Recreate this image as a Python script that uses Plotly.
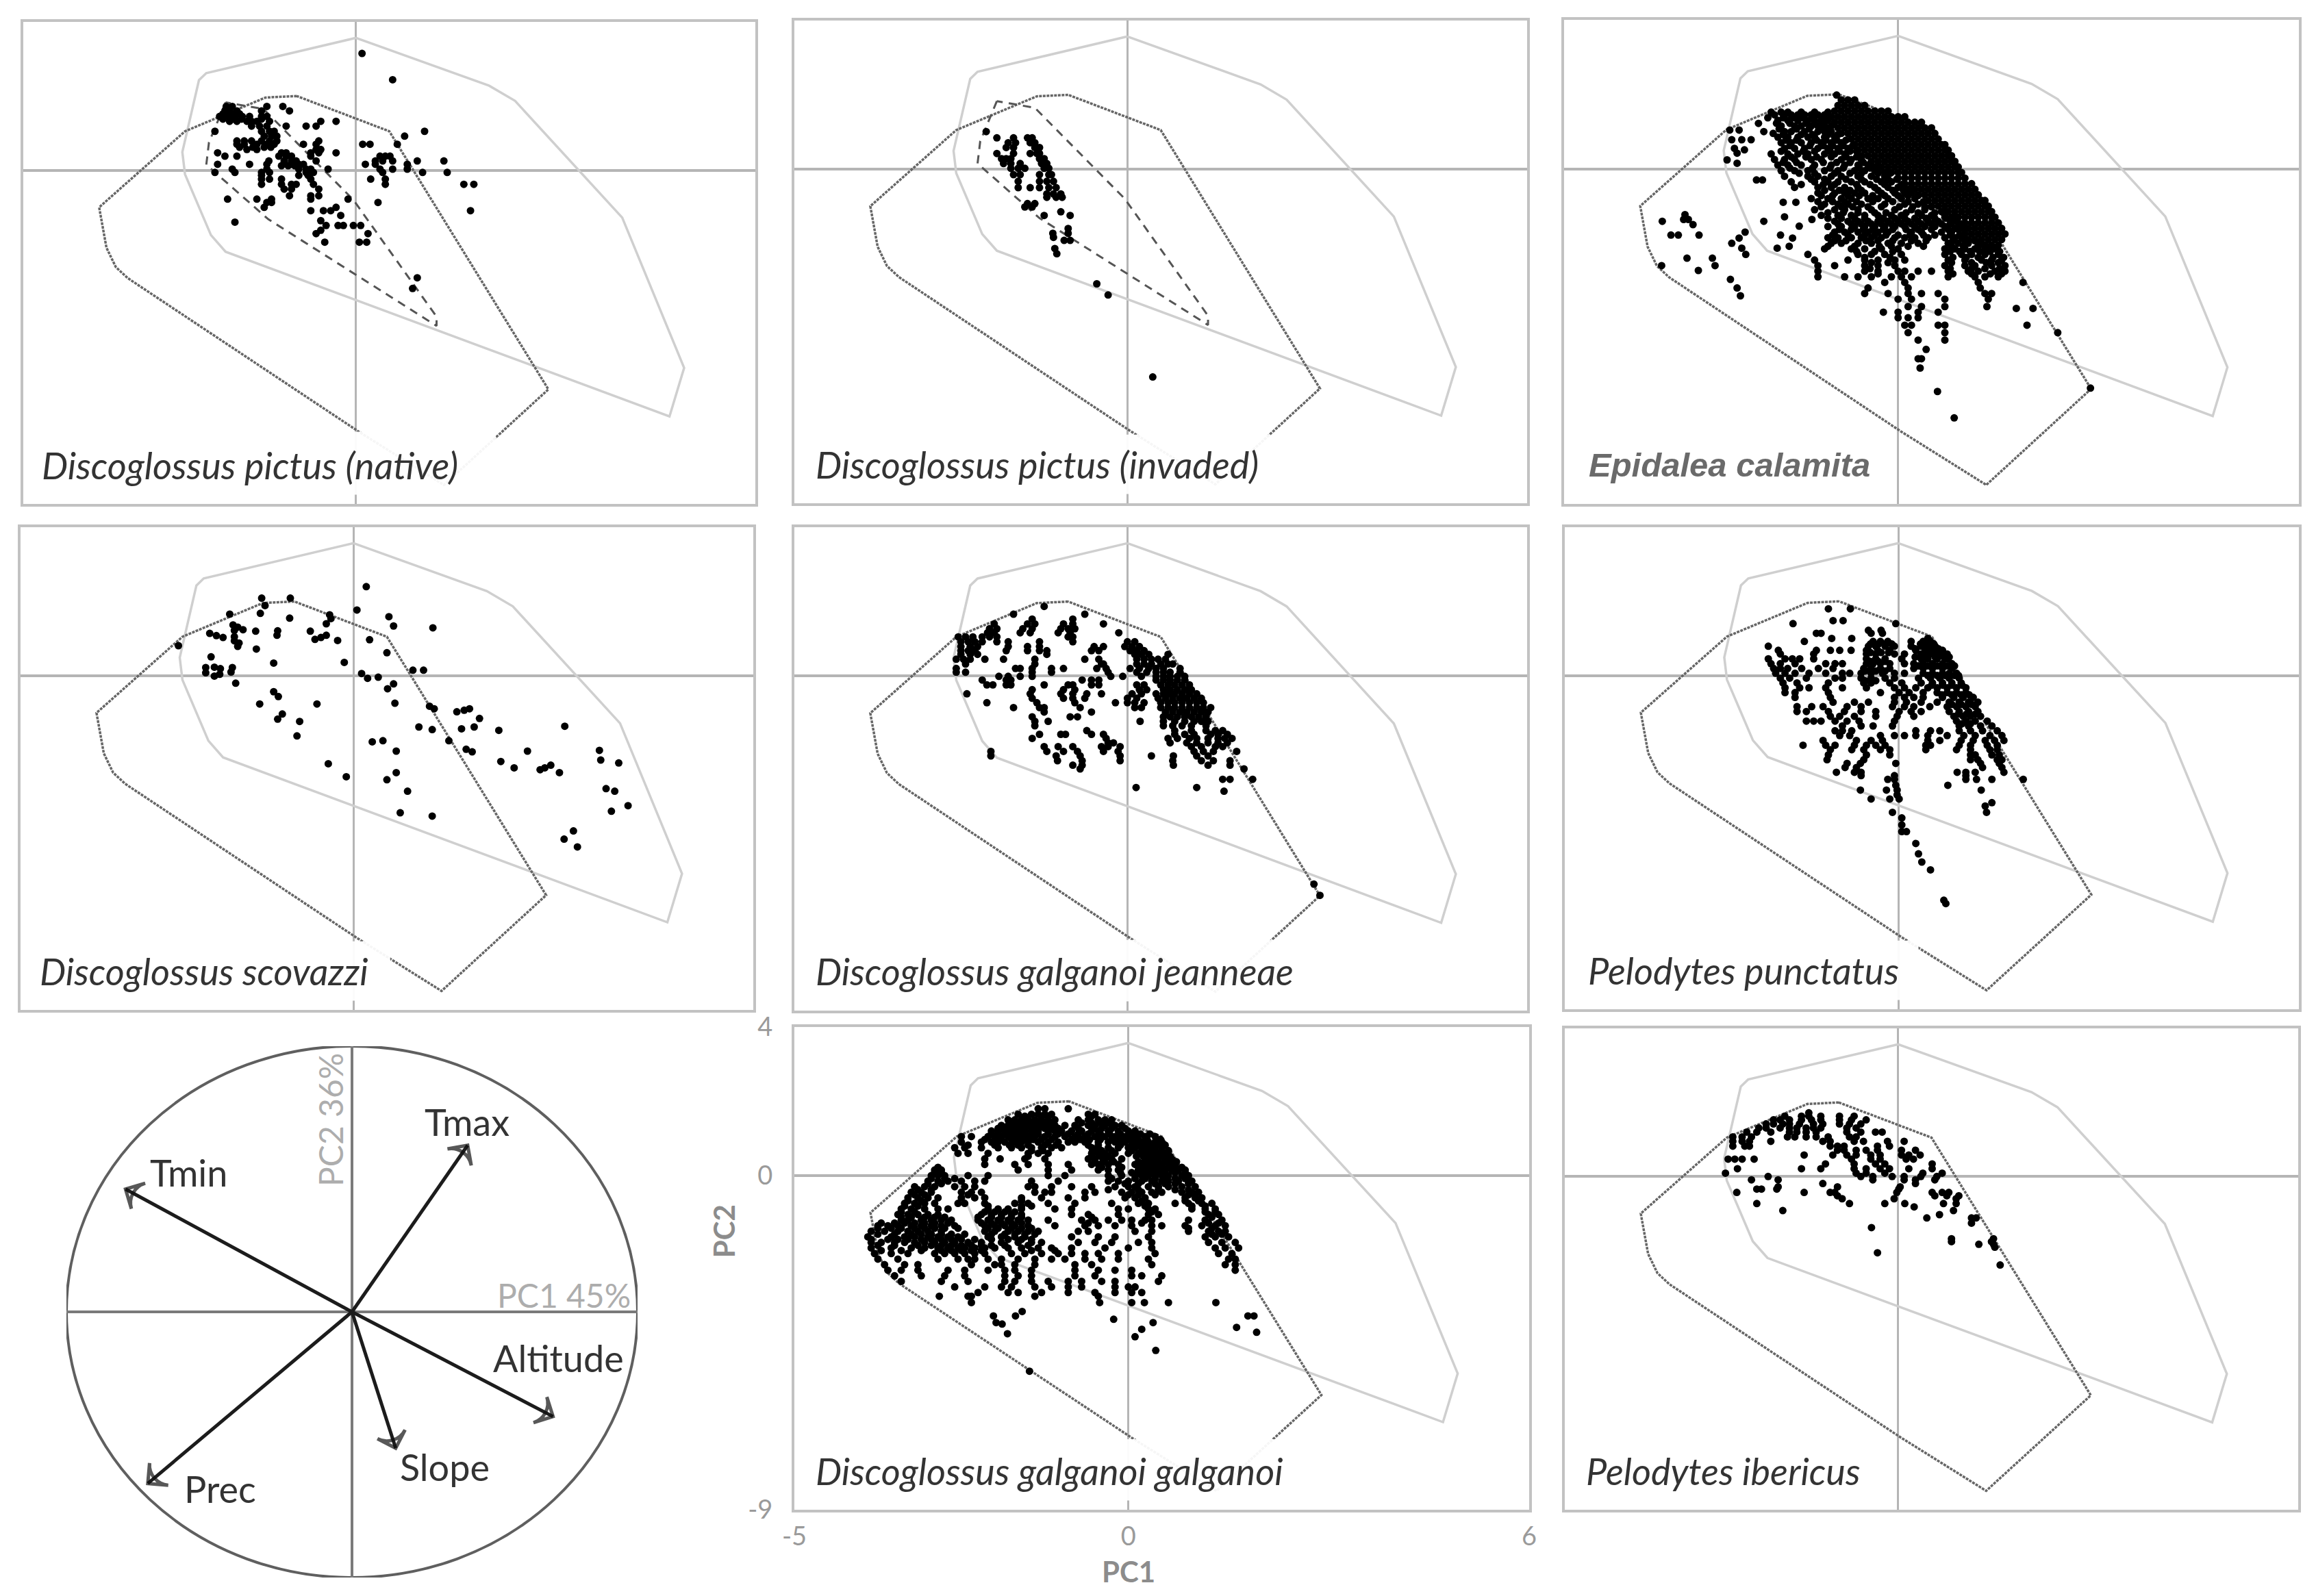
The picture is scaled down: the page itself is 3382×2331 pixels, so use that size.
import plotly.graph_objects as go

W, H = 3382, 2331

# ---- envelopes (PC1, PC2) ----
invaded_x = [0, -2.25, -2.36, -2.61, -2.57, -2.18, -1.96, 4.71, 4.93, 4.0, 2.39, 2.0, 0]
invaded_y = [3.57, 2.62, 2.43, 0.49, -0.11, -1.75, -2.2, -6.64, -5.33, -1.28, 1.87, 2.28, 3.57]
native_x = [-0.89, -1.36, -2.57, -3.86, -3.75, -3.61, -3.43, 0.04, 1.32, 2.89, 0.5, -0.89]
native_y = [2.0, 1.96, 1.05, -1.0, -2.09, -2.61, -2.91, -7.05, -8.49, -5.91, 1.05, 2.0]
pictus_x = [-1.96, -2.21, -2.25, -1.32, 1.21, 1.21, -0.04, -1.39, -1.96]
pictus_y = [1.83, 0.75, 0.15, -1.32, -4.2, -3.95, -0.8, 1.65, 1.83]

# ---- occurrences, stored as (PC2, [PC1 ...]) ----
A_rows = [
(3.15,[.09]),(2.44,[.55]),(1.72,[-1.95,-1.86,-1.34,-1.1]),(1.6,[-1.97,-1.9,-1.79,-1.42,-1.0]),
(1.45,[-2.05,-1.97,-1.9,-1.82,-1.71,-1.6,-1.42,-1.34]),(1.32,[-1.9,-1.79,-1.64,-1.57,-1.49,-1.3,-.53,-.3]),
(1.19,[-1.57,-1.45,-1.34,-1.05,-.75,-.6]),(1.05,[-2.12,-1.42,-1.3,-1.23,1.03]),(.92,[-1.38,-1.27,-1.19,.73]),
(.79,[-1.79,-1.68,-1.57,-1.42,-1.3,-1.19,-.56]),(.7,[-1.79,-1.68,-1.49,-1.34,-1.23,-.79,-.6,.1,.21,.62]),
(.56,[-1.64,-1.49,-.6,-.53]),(.47,[-2.08,-1.12,-1.05,-.68,-.56,-.3]),(.38,[-1.97,-1.79,-1.16,-1.05,-.97,-.68,.36,.44,.51]),
(.25,[-1.31,-1.08,-.97,-.9,-.6,.29,.4,.55,.92,1.32]),(.16,[-2.08,-1.6,-1.34,-.97,-.86,-.79,.14,.29,.77]),
(.03,[-1.86,-1.34,-.86,-.75,-.68,-.42,.36,.55,.77]),(-.06,[-2.12,-1.82,-1.42,-1.3,-.75,-.64,1.0,.4,1.37]),
(-.24,[-1.42,-1.3,-1.12,-.68,.22,.44]),(-.38,[-1.42,-1.12,-.97,-.9,-.64,.44,1.62,1.77]),(-.51,[-1.08,-.97,-.56]),
(-.69,[-1.0,-.68,-.56]),(-.78,[-1.93,-1.49,-1.27,-.68,-.12]),(-.87,[-1.27,-1.34,.33]),(-1,[-1.38,-.3]),
(-1.09,[-.68,-.49,-.38,1.72]),(-1.22,[-.23]),(-1.36,[-.53]),(-1.4,[-1.82]),(-1.49,[-.45,-.27,-.19,-.04,.07]),
(-1.62,[-.53]),(-1.71,[-.6,.18]),(-1.94,[-.47,.05,.16]),(-2.9,[.92]),(-3.19,[.85]),
(1.52,[-2.0,-1.85,-1.75]),(1.38,[-2.0,-1.85,-1.72,-1.42]),(.12,[-1.12,-1.02,-.92]),(-.14,[-1.42,-.86,-.72]),(.62,[-1.75,-1.55,-1.38,-1.28]),
]
B_rows = [
(1.01,[-2.12]),(.84,[-1.96,-1.71,-1.5,-1.43]),(.71,[-1.79,-1.68,-1.46,-1.39]),(.58,[-1.82,-1.71,-1.39,-1.32]),
(.42,[-1.96,-1.71,-1.46,-1.36,-1.32]),(.28,[-1.89,-1.82,-1.75,-1.32,-1.25]),(.15,[-1.86,-1.75,-1.61,-1.29,-1.21]),
(.02,[-1.75,-1.64,-1.54,-1.25,-1.18]),(-.15,[-1.71,-1.61,-1.32,-1.18,-1.14]),(-.33,[-1.64,-1.32,-1.21,-1.11]),
(-.5,[-1.64,-1.46,-1.32,-1.18,-1.07]),(-.67,[-1.21,-1.11,-1.0]),(-.76,[-1.21,-1.07,-.98]),(-.93,[-1.5,-1.39]),
(-1.02,[-1.54,-1.43]),(-1.15,[-1.0]),(-1.25,[-1.25,-.86]),(-1.6,[-.89]),(-1.73,[-1.12,-.89]),(-1.84,[-1.11]),
(-1.92,[-.95,-.86]),(-2.14,[-1.09]),(-2.28,[-1.06]),(-3.09,[-.46]),(-3.39,[-.29]),(-5.6,[.38]),
]
C_dense_rows = [
(1.85,[-.85,-.75,-.65]),(1.7,[-.9,-.8,-.7,-.6,-.5]),
(1.55,[-.95,-.85,-.75,-.65,-.55,-.45,-.35,-.25,-.15]),
(1.4,[-1.0,-.9,-.8,-.7,-.6,-.5,-.4,-.3,-.2,-.1,0,.1]),
(1.25,[-.95,-.85,-.75,-.65,-.55,-.45,-.35,-.25,-.15,-.05,.05,.15,.25,.35]),
(1.1,[-.9,-.8,-.7,-.6,-.5,-.4,-.3,-.2,-.1,0,.1,.2,.3,.4,.5]),
(.95,[-.85,-.75,-.65,-.55,-.45,-.35,-.25,-.15,-.05,.05,.15,.25,.35,.45,.55]),
(.8,[-.7,-.6,-.5,-.4,-.3,-.2,-.1,0,.1,.2,.3,.4,.5,.6]),
(.65,[-.65,-.55,-.45,-.35,-.25,-.15,-.05,.05,.15,.25,.35,.45,.55,.65,.7]),
(.5,[-.6,-.5,-.4,-.3,-.2,-.1,0,.1,.2,.3,.4,.5,.6,.7,.75]),
(.35,[-.55,-.45,-.35,-.25,-.15,-.05,.05,.15,.25,.35,.45,.55,.65,.75,.8]),
(.2,[-.4,-.3,-.2,-.1,0,.1,.2,.3,.4,.5,.6,.7,.8,.85]),
(.05,[-.35,-.25,-.15,-.05,.05,.15,.25,.35,.45,.55,.65,.75,.85,.9]),
(-.1,[-.2,-.1,0,.1,.2,.3,.4,.5,.6,.7,.8,.9,.95]),
(-.25,[0,.1,.2,.3,.4,.5,.6,.7,.8,.9,1.0]),
(-.4,[.1,.2,.3,.4,.5,.6,.7,.8,.9,1.0,1.1]),
(-.55,[.15,.25,.35,.45,.55,.65,.75,.85,.95,1.05,1.15]),
(-.7,[.3,.4,.5,.6,.7,.8,.9,1.0,1.1,1.2]),
(-.85,[.45,.55,.65,.75,.85,.95,1.05,1.15,1.25,1.3]),
(-1.0,[.5,.6,.7,.8,.9,1.0,1.1,1.2,1.3,1.35]),
(-1.15,[.65,.75,.85,.95,1.05,1.15,1.25,1.35,1.4]),
(-1.3,[.7,.8,.9,1.0,1.1,1.2,1.3,1.4,1.45]),
(-1.45,[.8,.9,1.0,1.1,1.2,1.3,1.4,1.5]),
(-1.6,[.85,.95,1.05,1.15,1.25,1.35,1.45,1.55]),
(-1.75,[1.0,1.1,1.2,1.3,1.4,1.5,1.6]),
(-1.9,[1.05,1.15,1.25,1.35,1.45,1.55]),
(-2.05,[1.2,1.3,1.4,1.5]),
]
C_rows = [
(1.98,[-.92]),(1.45,[-1.85,-1.7,-1.6,-1.5,-1.4,-1.3,-1.2,-1.1]),(1.3,[-1.8,-1.65,-1.5,-1.35,-1.25,-1.15,-1.05]),
(1.22,[-2.09]),(1.15,[-1.75,-1.55,-1.45,-1.3,-1.2,-1.1,-1.0]),(1.04,[-2.52,-2.38]),(1.0,[-2.01,-1.7,-1.6,-1.4,-1.2,-1.1,-1.0]),
(.95,[-1.87]),(.85,[-1.8,-1.65,-1.5,-1.35,-1.25,-1.1,-.95]),(.78,[-2.49,-2.34,-2.2]),(.7,[-1.75,-1.6,-1.45,-1.3,-1.15,-1.0,-.85]),
(.55,[-2.45,-1.7,-1.55,-1.4,-1.2,-1.05,-.9,-.75]),(.51,[-2.3]),(.42,[-2.41]),(.4,[-1.9,-1.65,-1.5,-1.35,-1.1,-.95,-.8]),
(.25,[-1.85,-1.7,-1.55,-1.3,-1.15,-.85,-.7,-.55]),(.24,[-2.56]),(.15,[-2.41]),(.1,[-1.8,-1.65,-1.45,-1.25,-1.0,-.8,-.6,-.45]),
(-.05,[-1.75,-1.55,-1.35,-1.1,-.9,-.65,-.5,-.35]),(-.2,[-1.7,-1.35,-1.2,-1.0,-.85,-.6,-.4,-.2]),(-.3,[-2.12,-2.03]),
(-.35,[-1.6,-1.25,-1.05,-.9,-.7,-.5,-.25,-.1]),(-.5,[-1.55,-1.2,-1.0,-.8,-.6,-.35,-.15,0]),
(-.65,[-1.2,-.95,-.8,-.65,-.5,-.25,-.05,.1,.2]),(-.8,[-1.3,-1.05,-.85,-.7,-.45,-.3,-.15,.05,.25]),
(-.9,[-1.72,-1.53]),(-.95,[-1.1,-.9,-.75,-.55,-.2,.1,.3]),(-1.1,[-1.25,-.95,-.8,-.6,-.4,-.05,.2,.4]),
(-1.23,[-3.19]),(-1.25,[-1.15,-.9,-.7,-.5,-.3,-.1,.05,.35,.5]),(-1.29,[-1.7]),(-1.36,[-3.21,-3.14,-1.29]),
(-1.41,[-3.53,-2.01,-.95,-.75,-.6,-.45,-.3,-.15,0,.15,.3,.45,.6]),(-1.5,[-3.07]),(-1.54,[-1.48]),
(-1.55,[-1.05,-.85,-.65,-.5,-.35,-.2,-.05,.1,.25,.4,.55,.7]),(-1.7,[-2.29,-.95,-.8,-.6,-.45,-.3,-.15,.2,.35,.65,.8]),
(-1.78,[-3.4,-3.29,-2.98,-1.76]),(-1.86,[-2.38,-1.58]),(-1.85,[-1.05,-.9,-.7,-.55,-.4,-.25,-.05,.1,.25,.45,.7,.85,.95]),
(-2.0,[-2.49,-1.0,-.85,-.6,-.4,-.15,.05,.3,.75,.9,1.05,1.25]),(-2.08,[-1.63]),(-2.13,[-2.34,-1.81]),
(-2.15,[-1.1,-.7,-.5,-.25,0,.7,.85,1.0,1.15,1.3,1.45]),(-2.3,[-2.28,-1.35,-.6,-.4,-.2,.05,.7,.95,1.1,1.3,1.5]),
(-2.4,[-3.16,-2.78]),(-2.45,[-1.25,-.75,-.5,-.3,-.05,.1,.75,1.0,1.25,1.4,1.55]),(-2.6,[-3.54,-2.74,-1.2,-.95,-.5,-.3,-.05,.7,1.0,1.15,1.4,1.6]),
(-2.73,[-2.99]),(-2.75,[-1.2,-.5,-.3,0,.1,.3,.5,.75,1.05,1.2,1.45,1.6]),(-2.9,[-1.2,-.8,-.6,-.4,-.1,.05,.2,.75,1.15,1.3,1.5]),
(-2.97,[-2.51]),(-3.05,[-.2,.1,1.2,1.87]),(-3.2,[-2.41,-.45,.15,1.23]),(-3.35,[-.5,-.15,.15,.35,.6,1.3,1.4]),(-3.41,[-2.36]),
(-3.5,[0,.2,.7,1.35]),(-3.7,[.15,.35,.7,1.33]),(-3.75,[1.77,2.02]),(-3.85,[-.22,0,.3,.6]),(-4.0,[0,.15,.3]),
(-4.2,[.1,.2,.6,.7,1.93]),(-4.4,[.15,.7,2.39]),(-4.6,[.3,.7]),(-4.85,[.42]),(-5.1,[.3,.35]),(-5.35,[.33]),
(-5.89,[2.88]),(-5.98,[.59]),(-6.69,[.84]),
(1.52,[-1.9,-1.75,-1.65,-1.45,-1.25,-1.05]),(1.37,[-1.95,-1.72,-1.57,-1.42,-1.27,-1.12]),(1.22,[-1.82,-1.62,-1.38,-1.25,-1.12]),
(1.07,[-1.78,-1.52,-1.33,-1.15,-1.02]),(.92,[-1.72,-1.45,-1.28,-1.05,-.9]),(.77,[-1.68,-1.52,-1.22,-1.08,-.92,-.78]),
(.62,[-1.62,-1.32,-1.12,-.98,-.82,-.68]),(.47,[-1.75,-1.42,-1.25,-1.02,-.88,-.72,-.62]),(.32,[-1.6,-1.38,-1.22,-1.0,-.78,-.62]),
(.17,[-1.72,-1.52,-1.12,-.92,-.72,-.52]),(.02,[-1.62,-1.28,-1.02,-.82,-.58,-.42,-.28]),(-.12,[-1.48,-1.25,-.95,-.72,-.55,-.3,-.12]),
(-.28,[-1.3,-1.1,-.78,-.55,-.32,-.15,-.02]),(-.42,[-1.45,-1.12,-.95,-.62,-.42,-.2,.05]),(-.58,[-1.1,-.88,-.72,-.55,-.3,-.08,.08,.18]),
(-.72,[-1.15,-.98,-.75,-.58,-.38,-.2,0,.15,.3]),(-.88,[-1.2,-.98,-.8,-.62,-.38,-.08,.15,.38]),(-1.02,[-1.15,-.85,-.68,-.45,-.25,.02,.22,.4,.5]),
(-1.18,[-1.05,-.82,-.6,-.35,-.18,.12,.3,.55,.68]),(-1.33,[-1.05,-.85,-.65,-.5,-.22,-.05,.1,.25,.42,.55,.72,.85]),
(-1.48,[-.9,-.7,-.55,-.4,-.25,-.1,.05,.2,.35,.5,.65,.78,.95]),(-1.63,[-.88,-.7,-.52,-.38,-.22,-.08,.12,.3,.5,.75,.9,1.0]),
(-1.78,[-.98,-.75,-.5,-.35,-.18,0,.18,.38,.55,.78,.92]),(-1.93,[-.95,-.78,-.48,-.3,-.08,.2,.42,.82,1.0,1.15]),
(-2.08,[-1.05,-.65,-.28,-.1,.15,.38,.8,.98,1.2,1.38]),(-2.22,[-.62,-.35,-.08,.78,.92,1.08,1.22,1.38,1.52]),
(-2.38,[-.5,-.12,.82,1.02,1.2,1.42,1.58]),(-2.52,[-.4,-.15,.8,1.1,1.32,1.5]),(-2.68,[-.42,.78,1.1,1.3,1.52]),(-2.82,[-.3,.82,1.1,1.38,1.55]),
]
D_x = [.19,-1.38,-.95,-1.33,.05,-1.4,-1.86,-.36,.53,-.96,-.34,-.41,.6,1.19,-1.81,-1.74,-1.66,-1.79,-1.47,-1.14,-1.15,-.65,-2.16,-2.06,-1.96,-1.79,-1.79,-1.72,-1.74,-.41,-.49,-.58,-.24,.24,-2.63,-1.46,.5,-2.14,-1.2,-.14,-2.22,-2.22,-2.09,-2.0,-2.09,-2.01,-1.82,-1.84,.89,1.05,.12,.21,.37,-1.77,.6,.51,-1.2,-1.13,-1.41,-.55,.62,1.14,1.21,1.55,1.66,1.74,-1.07,-1.14,-.81,1.89,.98,1.18,1.62,1.81,2.18,3.17,-.85,.28,.44,1.43,.64,1.69,1.78,2.61,3.69,3.71,3.98,-.38,2.21,2.41,2.8,2.87,2.96,3.09,.64,-.11,.5,.81,3.79,3.92,4.12,3.87,.7,1.18,3.3,3.16,3.36]
D_y = [2.4,2.09,2.09,1.89,1.77,1.68,1.66,1.64,1.59,1.55,1.54,1.4,1.34,1.29,1.37,1.31,1.24,1.22,1.2,1.21,1.09,1.2,1.14,1.08,1.03,1.05,.94,.88,.79,1.09,1.03,.98,.95,.97,.81,.72,.62,.51,.34,.36,.22,.08,.23,.19,-.01,.04,.22,.1,.15,.15,.06,-.07,-.04,-.2,-.22,-.35,-.43,-.56,-.76,-.76,-.74,-.82,-.89,-.97,-.93,-.89,-1.03,-1.17,-1.23,-1.15,-1.38,-1.45,-1.43,-1.38,-1.47,-1.36,-1.62,-1.78,-1.75,-1.75,-2.03,-1.98,-2.05,-2.03,-2.01,-2.27,-2.35,-2.37,-2.31,-2.48,-2.53,-2.48,-2.41,-2.61,-2.61,-2.72,-2.8,-3.11,-3.04,-3.11,-3.5,-3.65,-3.69,-3.78,-4.18,-4.4,-4.61]
E_rows = [
(1.87,[-1.25]),(1.66,[-1.71,-.64]),(1.53,[-1.43,-.82]),(1.4,[-2,-1.5,-1.39,-.96,-.82,-.36]),(1.27,[-2.07,-1.96,-1.57,-1.43,-1,-.89,-.79]),
(1.16,[-2.1,-2,-1.61,-1.46,-1.04,-.86,-.13]),(1.05,[-2.54,-2.43,-2.32,-2.18,-2.07,-1.96,-.89,-.82]),
(.92,[-2.5,-2.39,-2.29,-2.18,-1.96,-1.79,-1.32,-.82,0,.11]),(.79,[-2.5,-2.36,-2.25,-1.79,-1.5,-1.32,-.5,-.36,-.04,.07,.18]),
(.68,[-2.5,-2.39,-2.29,-1.82,-1.5,-1.32,-1.21,-.54,-.43,.04,.14,.25]),(.58,[-2.5,-2.36,-2.25,-1.21,.11,.21,.32,.61]),
(.45,[-2.57,-2.46,-2.36,-2.14,-1.86,-1.39,-.64,-.43,.14,.25,.36,.46,.57]),(.32,[-2.43,-1.39,-.39,-.36,.14,.25,.36,.5,.61,.68]),
(.2,[-2.57,-1.68,-1.61,-1.43,-1.14,-.96,-.46,-.32,.04,.18,.32,.43,.54,.79]),(.1,[-2.57,-2.43,-1.43,-1.14,-.29,.14,.29,.43,.54,.64,.79]),
(-.01,[-1.93,-1.79,-1.61,-1.43,-.25,-.07,.21,.43,.54,.64,.75,.86]),(-.11,[-2.18,-1.82,-1.75,-.68,-.54,-.43,.43,.54,.64,.75,.86]),
(-.24,[-2.11,-2.02,-1.82,-1.75,-1.25,-.89,-.82,-.54,-.43,.14,.25,.5,.61,.71,.82,.93]),(-.37,[-1.43,-.96,-.79,.18,.29,.54,.64,.75,.86,.96]),
(-.48,[-2.41,-1.46,-1,-.82,-.61,-.39,.07,.21,.43,.54,.61,.71,.82,.93,1.04]),(-.6,[-1.43,-.96,-.82,-.64,0,.14,.46,.57,.68,.79,.89,1,1.11]),
(-.72,[-2.11,-1.36,-.79,-.18,0,.11,.25,.5,.61,.71,.82,.93,1.04,1.14]),(-.85,[-1.71,-1.32,-1.25,-.71,.11,.21,.5,.61,.71,.82,.93,1.04,1.14,1.25]),
(-.97,[-1.25,-.54,.57,.68,.79,.89,1,1.11,1.21]),(-1.1,[-1.43,-.86,-.75,.54,.64,.75,.86,.96,1.07,1.18]),
(-1.22,[-1.39,-1.19,.19,.54,.71,.86,1,1.11,1.21]),(-1.34,[-1.39,.54,.68,.82,.96,1.18]),(-1.47,[-.61,.71,.96,1.18,1.32,1.43]),
(-1.57,[-1.32,-1,-.93,-.54,-.36,.71,.86,1,1.25,1.36,1.5]),(-1.68,[-1.43,-.32,.61,.75,.93,1.04,1.21,1.36,1.46,1.57]),
(-1.8,[-.29,-.21,.64,.89,1.04,1.21,1.36,1.5]),(-1.9,[-1.25,-1.04,-.82,-.39,-.29,-.11,.96,1.11,1.32,1.43]),
(-2.03,[-2.05,-1.21,-.96,-.75,-.36,-.14,1,1.14,1.29,1.64]),(-2.15,[-2.05,-1.07,-.71,-.11,.36,.69,1.04,1.21]),
(-2.28,[-1.05,-.68,-.11,.68,1.11,1.29,1.54]),(-2.4,[-.82,-.68,.69,1.21,1.54]),(-2.5,[-.71,1.75]),(-2.78,[1.88,1.43,1.54]),
(-3.0,[.13,1.04]),(-3.1,[1.45]),(-5.6,[2.8]),(-5.9,[2.89]),
]
F_rows = [
(1.8,[-1.05,-.72]),(1.48,[-.98,-.83]),(1.4,[-1.58,-.04]),(1.22,[-.45,-.26]),(1.14,[-1.23,-1.16,-.41,-.24]),(1.0,[-1.0,-.7,.44]),
(.92,[-1.41,-.38,-.27,-.16,.19,.37,.48]),(.79,[-1.95,-.45,-.34,-.2,-.06,.19,.34,.44,.55]),
(.68,[-1.8,-1.23,-1.02,-.88,-.71,-.48,-.31,-.13,.26,.41,.55,.66]),(.58,[-1.77,-1.27,-.48,-.34,-.06,.09,.34,.48,.62,.73]),
(.45,[-1.95,-1.7,-1.59,-1.48,-1.27,-.48,-.34,-.2,.05,.34,.44,.58,.73]),
(.32,[-1.91,-1.77,-1.55,-1.09,-.95,-.84,-.48,-.38,-.27,-.13,.09,.23,.37,.51,.66,.8]),
(.19,[-1.87,-1.77,-1.66,-1.45,-1.2,-.98,-.52,-.41,-.27,-.13,.23,.37,.51,.66,.8]),
(.06,[-1.84,-1.7,-1.55,-1.34,-1.09,-.84,-.73,-.56,-.41,-.24,-.06,.09,.37,.51,.66,.76,.87]),
(-.07,[-1.77,-1.63,-1.38,-.95,-.84,-.56,-.41,-.2,-.06,.3,.48,.62,.76,.91]),
(-.2,[-1.73,-1.52,-1.05,-.52,-.41,-.13,.05,.34,.51,.66,.8,.94]),
(-.33,[-1.7,-1.48,-1.34,-1.09,-.84,-.48,-.06,.09,.26,.44,.58,.73,.87,1.01]),
(-.46,[-1.7,-1.55,-1.05,-.27,.01,.16,.37,.58,.73,.87,1.01]),(-.59,[-1.55,-1.02,-.06,.09,.23,.37,.66,.83,.97,1.12]),
(-.72,[-.98,-.66,-.45,-.06,.12,.34,.58,.76,.91,1.05,1.19]),(-.84,[-1.52,-1.3,-1.13,-.77,-.56,-.09,.09,.23,.47,.73,.87,1.01,1.15]),
(-.97,[-1.52,-1.38,-1.05,-.81,-.56,-.34,.01,.19,.34,.76,.91,1.05,1.19]),(-1.1,[-1.02,-.88,-.66,-.34,-.02,.23,.83,.97,1.08,1.23]),
(-1.23,[-1.38,-1.27,-1.16,-.95,-.77,-.59,-.06,.87,1.01,1.15,1.33]),(-1.36,[-.84,-.56,-.38,-.09,.91,1.05,1.23,1.4]),
(-1.49,[-.95,-.84,-.7,.26,.48,.62,.91,1.08,1.26,1.48]),(-1.62,[-.88,-.73,-.27,-.06,.09,.26,.44,.73,.98,1.15,1.37,1.55]),
(-1.75,[-1.13,-.63,-.41,-.24,.44,.62,.94,1.12,1.3,1.44,1.58]),(-1.88,[-1.43,-1.09,-.95,-.66,-.48,-.34,-.2,.41,.48,.91,1.08,1.33,1.48]),
(-2.0,[-1.02,-.7,-.52,-.27,-.13,.41,.87,1.08,1.37,1.48]),(-2.14,[-1.05,-.48,-.13,1.08,1.15,1.4,1.51]),(-2.27,[-1.07,-.52,1.08,1.19,1.48,1.55]),
(-2.37,[-.77,-.57,-.04,1.23,1.51]),(-2.48,[-.8,-.63,1.26,1.55]),(-2.61,[-.93,-.66,-.56,.88,1.01,1.15,1.58]),(-2.7,[-.56,-.06,1.01]),
(-2.8,[-.16,-.06,1.01,1.17,1.4,1.87]),(-2.96,[-.04,.74]),(-3.09,[-.57,-.18,-.02,1.24]),(-3.22,[-.02]),(-3.33,[-.41,-.13,.01]),
(-3.43,[1.4]),(-3.52,[1.3]),(-3.69,[-.09,1.32]),(-3.84,[.05]),(-4.03,[.05]),(-4.21,[.05,.12]),(-4.53,[.26]),(-4.81,[.3]),(-5.03,[.35]),
(-5.24,[.48]),(-6.06,[.68]),(-6.15,[.71]),
(.85,[-.42,-.3,-.2,-.1,.33,.43,.53]),(.72,[.25,.4,.5,.6]),(.62,[-.42,-.26,-.15]),(.5,[.25,.4,.55,.68,.76]),(.38,[-.42,-.3,-.2]),
(.26,[.3,.44,.58,.73,.84]),(.12,[-.5,-.34,-.2]),(0,[.44,.58,.7,.84,.9]),(-.14,[-.5,-.34]),(-.26,[.5,.66,.8,.95]),(-.52,[.65,.8,.94,1.06]),
(-.78,[.8,.94,1.1]),(-1.04,[.9,1.02,1.15]),(-1.3,[.95,1.08]),
]
H_rows = [
(1.8,[-1.35,-1.25,-.9]),(1.65,[-1.65,-1.45,-1.35,-1.25,-1.15,-.6,-.5]),(1.5,[-1.8,-1.7,-1.6,-1.5,-1.4,-1.3,-1.2,-1.1,-.75,-.6,-.45,-.35,-.25]),
(1.35,[-1.9,-1.8,-1.7,-1.6,-1.5,-1.4,-1.3,-1.2,-1.1,-.95,-.8,-.6,-.5,-.35,-.2,-.1]),
(1.2,[-2.05,-1.95,-1.85,-1.75,-1.65,-1.55,-1.45,-1.35,-1.2,-1.1,-1.0,-.85,-.7,-.55,-.45,-.3,-.15,0,.1]),
(1.05,[-2.5,-2.35,-2.1,-2.0,-1.9,-1.8,-1.7,-1.6,-1.5,-1.4,-1.25,-1.1,-.95,-.8,-.65,-.5,-.35,-.2,-.05,.1,.25,.4]),
(.9,[-2.5,-2.2,-2.05,-1.95,-1.85,-1.7,-1.6,-1.5,-1.35,-1.2,-1.05,-.9,-.8,-.65,-.45,-.3,-.2,-.05,.1,.2,.3,.4,.5]),
(.75,[-2.6,-2.45,-2.2,-1.95,-1.75,-1.6,-1.45,-1.3,-1.15,-1.0,-.55,-.45,-.3,-.15,0,.1,.2,.3,.4,.5]),
(.6,[-2.55,-2.4,-2.1,-1.5,-1.35,-1.2,-.55,-.45,-.35,-.2,0,.15,.25,.35,.45,.55]),
(.45,[-2.15,-1.92,-1.55,-1.25,-.6,-.5,-.35,-.25,-.1,.25,.35,.45,.55,.65]),
(.3,[-2.15,-1.7,-1.5,-1.2,-.9,-.55,-.45,-.3,-.15,.1,.2,.3,.4,.5,.6,.7]),
(.15,[-2.9,-2.8,-1.65,-1.2,-.85,-.45,-.3,-.15,.15,.25,.35,.45,.55,.65,.75,.85]),
(0,[-2.95,-2.85,-2.75,-2.4,-2.1,-1.2,-.95,-.3,-.1,.1,.2,.3,.4,.5,.6,.8,.9]),
(-.15,[-3.0,-2.85,-2.7,-2.5,-2.3,-2.15,-1.45,-1.05,-.3,-.15,0,.2,.35,.5,.6,.75,.9,.95]),
(-.3,[-3.2,-3.05,-2.9,-2.6,-2.45,-2.3,-1.5,-1.4,-1.15,-.85,-.55,-.2,0,.1,.3,.45,.6,.8,1.0]),
(-.45,[-3.25,-3.1,-2.95,-2.5,-2.35,-2.2,-1.4,-1.25,-1.15,-.65,-.5,-.1,.05,.2,.35,.5,.8,.95,1.05]),
(-.6,[-3.3,-3.15,-3.0,-2.85,-2.5,-2.3,-2.15,-1.6,-1.3,-.9,-.65,-.05,.1,.25,.85,1.0,1.1]),
(-.75,[-3.35,-3.2,-3.05,-2.9,-2.55,-2.45,-2.15,-1.7,-1.5,-1.2,-.8,-.25,.15,.3,.7,.9,1.1,1.25]),
(-.9,[-3.4,-3.25,-3.05,-2.85,-2.7,-2.1,-1.95,-1.8,-1.6,-1.1,-.85,-.15,0,.3,.4,.95,1.15,1.3]),
(-1.05,[-3.45,-3.3,-3.15,-3.0,-2.85,-2.2,-2.05,-1.9,-1.75,-1.6,-.85,-.6,-.15,.3,.45,1.2,1.35]),
(-1.2,[-3.4,-3.3,-3.1,-2.95,-2.8,-2.65,-2.25,-2.1,-1.95,-1.8,-1.65,-1.5,-1.2,-.7,-.5,-.3,-.1,.05,.25,.35,.9,1.15,1.4]),
(-1.35,[-3.75,-3.6,-3.45,-3.25,-3.1,-2.95,-2.8,-2.6,-2.15,-2.0,-1.85,-1.7,-1.5,-1.1,-.65,-.45,-.2,.05,.35,.5,.85,1.1,1.3,1.45]),
(-1.5,[-3.85,-3.65,-3.45,-3.3,-3.15,-3.0,-2.8,-2.15,-2.0,-1.8,-1.65,-1.5,-1.35,-.75,-.6,.1,.35,.9,1.2,1.35,1.45]),
(-1.65,[-3.9,-3.55,-3.35,-3.2,-3.0,-2.85,-2.7,-2.55,-2.1,-1.9,-1.7,-1.55,-.85,-.45,-.2,.3,1.15,1.3,1.5]),
(-1.8,[-3.85,-3.7,-3.5,-3.35,-3.2,-3.05,-2.9,-2.75,-2.6,-2.4,-2.2,-1.9,-1.65,-1.45,-1.3,-.75,-.5,-.25,.15,.35,1.2,1.4,1.6]),
(-1.95,[-3.85,-3.55,-3.25,-3.05,-2.85,-2.7,-2.55,-2.45,-2.3,-2.15,-2.0,-1.8,-1.6,-1.35,-1.15,-.85,-.35,0,.35,1.3,1.45,1.65]),
(-2.1,[-3.8,-3.55,-3.3,-2.9,-2.75,-2.6,-2.45,-2.3,-2.15,-1.75,-1.55,-1.3,-1.05,-.85,-.65,-.45,-.15,.4,1.35,1.55]),
(-2.25,[-3.75,-3.45,-2.85,-2.55,-2.4,-2.3,-2.1,-1.9,-1.65,-1.4,-1.15,-.95,-.65,-.4,-.15,.3,1.5,1.6]),
(-2.4,[-3.65,-3.35,-3.15,-2.35,-2.0,-1.9,-1.7,-1.4,-.8,-.55,.35,1.45,1.6]),
(-2.55,[-3.6,-3.4,-3.15,-2.7,-2.45,-2.1,-1.85,-1.7,-1.45,-.8,-.45,-.2,.05,1.6]),
(-2.7,[-3.5,-3.1,-2.75,-2.45,-1.85,-1.65,-1.45,-.8,-.5,.05,.2,.5]),
(-2.85,[-3.4,-2.8,-2.4,-1.85,-1.7,-1.45,-1.2,-.9,-.7,-.4,-.2,.45]),
(-3.0,[-2.6,-2.15,-1.9,-1.75,-1.4,-1.15,-.9,-.7,-.2,0,.1]),(-3.15,[-2.25,-1.8,-1.65,-1.3,-.9,-.5,-.2,.05,.2]),
(-3.25,[-2.83,-2.4,-2.35,-1.4,-.45]),(-3.42,[-2.35,-.43,1.31,.24,.6,.05]),(-3.66,[-1.59]),(-3.78,[-2.02,-1.69,1.79,1.88]),
(-3.87,[-.22]),(-3.96,[.37,-1.98]),(-4.0,[-1.89]),(-4.09,[1.62]),(-4.14,[.2]),(-4.22,[1.92]),(-4.26,[-1.81]),(-4.34,[.1]),
(-4.71,[.41]),(-5.27,[-1.48]),
(1.6,[-1.55,-1.3,-1.2,-.55]),(1.42,[-1.75,-1.65,-1.55,-1.45,-1.35,-1.25,-1.15,-.7,-.55,-.42,-.28]),
(1.27,[-1.95,-1.85,-1.75,-1.65,-1.55,-1.45,-1.35,-1.25,-1.15,-1.05,-.75,-.52,-.4,-.25,-.05]),
(1.12,[-2.05,-1.95,-1.85,-1.75,-1.65,-1.55,-1.45,-1.35,-1.2,-1.05,-.9,-.75,-.6,-.42,-.28,-.12,.02,.18,.32]),
(.97,[-2.15,-2.0,-1.9,-1.75,-1.65,-1.55,-1.42,-1.3,-1.15,-.85,-.72,-.58,-.42,-.25,-.12,.02,.15,.28,.42,.48]),
(.82,[-2.4,-2.0,-1.78,-1.65,-1.5,-1.25,-1.08,-.6,-.45,-.12,.05,.18,.28,.38,.48,.55]),
(.67,[-1.45,-1.28,-.5,-.4,-.25,.05,.2,.3,.4,.5,.6]),(.52,[-1.5,-.55,-.42,-.3,.12,.22,.32,.42,.52,.62]),
(.37,[-.5,-.38,-.22,.15,.25,.35,.45,.55,.65,.72]),(.22,[-2.85,-.4,-.1,.2,.3,.4,.5,.6,.7,.8]),
(.08,[-2.9,-2.8,-.12,.05,.15,.25,.35,.45,.55,.7,.85]),(-.08,[-2.95,-2.75,-2.6,-.25,.1,.25,.4,.55,.7,.85]),
(-.22,[-3.0,-2.8,-.05,.15,.4,.55,.7,.9]),(-.38,[-3.15,-2.95,-.3,.15,.45,.7,.9]),(-.52,[-3.2,-3.05,-2.4,0,.15,.4,.9,1.0]),
(-.68,[-3.3,-3.1,-1.6,.2,.85,1.05]),(-.82,[-3.35,-3.15,-2.1,-1.6,-1.45,.25,.95,1.15]),(-.98,[-3.4,-3.2,-2.15,-2.0,-1.85,-1.7,.35,1.15,1.3]),
(-1.12,[-3.4,-3.25,-3.05,-2.9,-2.75,-2.25,-2.05,-1.9,-1.75,-1.6,-.55,1.25]),(-1.28,[-3.7,-3.5,-3.35,-3.2,-3.05,-2.9,-2.7,-2.2,-2.05,-1.9,-1.75,-1.6,-.6,.2,1.2,1.35]),
(-1.42,[-3.75,-3.55,-3.4,-3.2,-3.05,-2.9,-2.75,-2.55,-2.1,-1.95,-1.75,-1.6,-1.45,.9,1.25]),(-1.58,[-3.75,-3.5,-3.25,-3.1,-2.95,-2.8,-2.65,-2.45,-2.05,-1.85,-1.7,-1.55,-1.4,1.25,1.4]),
(-1.72,[-3.85,-3.6,-3.45,-3.3,-3.1,-2.95,-2.8,-2.65,-2.5,-2.3,-2.05,-1.8,-1.6,-1.45]),(-1.88,[-3.75,-3.5,-3.15,-2.95,-2.8,-2.65,-2.5,-2.35,-2.2,-2.05,-1.85,-1.5]),
(-2.02,[-3.7,-3.4,-3.1,-2.8,-2.65,-2.5,-2.35,-2.2,-1.45,-1.1]),
]
I_rows = [
(1.72,[-1.34]),(1.63,[-1.7,-1.45,-1.34,-1.16,-.88,-.66]),(1.53,[-1.87,-1.77,-1.63,-1.45,-1.3,-1.16,-.88,-.7,-.48]),
(1.42,[-1.98,-1.87,-1.73,-1.63,-1.48,-1.27,-1.13,-.88,-.73,-.56]),(1.31,[-2.09,-1.98,-1.77,-1.63,-1.52,-1.38,-1.27,-1.16,-.77,-.63]),
(1.2,[-2.27,-2.12,-1.91,-1.63,-1.52,-1.38,-1.23,-.77,-.56,-.34,-.24]),(1.07,[-2.48,-2.34,-2.2,-1.66,-1.55,-1.38,-1.23,-1.05,-.73,-.63]),
(.95,[-2.48,-2.34,-2.23,-1.91,-1.13,-1.02,-.66,-.52,-.16,.09]),(.82,[-2.48,-2.3,-2.23,-1.02,-.91,-.81,-.31,-.13]),
(.71,[-.91,-.81,-.63,-.48,-.31,.05,.26]),(.58,[-1.41,-.98,-.77,-.63,-.41,-.27,.05,.16,.33]),(.47,[-2.55,-2.45,-2.34,-2.16,-.7,-.41,-.27,.12,.23]),
(.34,[-1.09,-.66,-.34,-.2,.51]),(.21,[-2.41,-1.45,-1.16,-.66,-.48,-.27,-.13,.16,.51]),(.09,[-2.59,-.63,-.48,-.2,.37,.66]),
(0,[-1.95,-.56,-.38,-.09,.09,.34,.58]),(-.09,[-2.2,-1.8,-.38,.09,.26,.55]),(-.19,[-1.13,.26]),(-.28,[-1.8,-.91,.03]),(-.34,[-2.12,-2.05,-1.82,.01]),
(-.43,[-2.42,-1.41,-1.02,-.95,-.02,.51,.66,.76]),(-.52,[-.91,.55,.73,.91]),(-.6,[-.84,-.06,.87]),(-.73,[-2.12,-.73,-.2,.1,.68,.87]),(-.82,[.24]),
(-.92,[-1.73,.83]),(-1.03,[.62]),(-1.12,[.43,1.1,1.17]),(-1.26,[1.1]),(-1.38,[-.4]),(-1.68,[.8,1.43]),(-1.76,[.8,1.4]),(-1.83,[1.21,1.43]),
(-1.91,[1.45]),(-2.06,[-.31]),(-2.39,[1.53]),
]

# ---- correlation circle ----
var_names = ["Tmax", "Tmin", "Altitude", "Slope", "Prec"]
var_x = [0.405, -0.793, 0.704, 0.153, -0.715]
var_y = [0.627, 0.462, -0.394, -0.513, -0.646]
var_label_x = [0.402, -0.571, 0.722, 0.326, -0.462]
var_label_y = [0.715, 0.524, -0.173, -0.583, -0.667]

def flat(*rowsets):
    xs, ys = [], []
    for rows in rowsets:
        for y, row in rows:
            xs += list(row)
            ys += [y] * len(row)
    return xs, ys

C_x, C_y = flat(C_rows, C_dense_rows)
panels = [
    dict(name="Discoglossus pictus (native)", box=(34, 32, 1103, 736), pts=flat(A_rows), dashed=True, mask=(-4.75, 2.1, -8.75, -7.05), lx=-4.74),
    dict(name="Discoglossus pictus (invaded)", box=(1160, 30, 2230, 735), pts=flat(B_rows), dashed=True, mask=(-4.75, 2.15, -8.75, -7.15), lx=-4.7),
    dict(name="Epidalea calamita", box=(2284, 29, 3357, 736), pts=(C_x, C_y), mask=None, lx=-4.65, arial=True),
    dict(name="Discoglossus scovazzi", box=(30, 770, 1100, 1475), pts=(D_x, D_y), mask=(-4.75, 0.55, -8.75, -7.15), lx=-4.73),
    dict(name="Discoglossus galganoi jeanneae", box=(1160, 770, 2230, 1476), pts=flat(E_rows), mask=(-4.75, 2.25, -8.75, -7.1), lx=-4.7),
    dict(name="Pelodytes punctatus", box=(2285, 770, 3357, 1474), pts=flat(F_rows), mask=(-4.75, 0.3, -8.75, -7.15), lx=-4.67),
    dict(name="Discoglossus galganoi galganoi", box=(1160, 1500, 2233, 2205), pts=flat(H_rows), mask=(-4.75, 2.2, -8.75, -7.1), lx=-4.7, axes=True),
    dict(name="Pelodytes ibericus", box=(2285, 1502, 3356, 2205), pts=flat(I_rows), mask=None, lx=-4.7),
]

fig = go.Figure()
shapes, annotations = [], []
FONT = "Lato"
FRAME = "#c2c2c2"
layout_axes = {}

for i, p in enumerate(panels, start=1):
    sfx = "" if i == 1 else str(i)
    xr, yr = f"x{sfx}", f"y{sfx}"
    L, T, R, B = p["box"]
    ax = dict(range=[-5, 6], domain=[L / W, R / W], anchor=yr, showgrid=False, showline=True, mirror=True, automargin=False,
              linecolor=FRAME, linewidth=4, zeroline=True, zerolinecolor="#b5b5b5", zerolinewidth=3, ticks="",
              showticklabels=False)
    ay = dict(range=[-9, 4], domain=[1 - B / H, 1 - T / H], anchor=xr, showgrid=False, showline=True, mirror=True, automargin=False,
              linecolor=FRAME, linewidth=4, zeroline=True, zerolinecolor="#b5b5b5", zerolinewidth=4, ticks="",
              showticklabels=False)
    if p.get("axes"):
        tf = dict(family=FONT, size=38, color="#9a9a9a")
        ax.update(showticklabels=True, tickvals=[-5, 0, 6], ticktext=["-5", "0", "6"], tickfont=tf, ticklabelstandoff=2)
        ay.update(showticklabels=True, tickvals=[4, 0, -9], ticktext=["4", "0", "-9"], tickfont=tf, ticklabelstandoff=20)
    layout_axes[f"xaxis{sfx}"] = ax
    layout_axes[f"yaxis{sfx}"] = ay

    fig.add_trace(go.Scatter(x=invaded_x, y=invaded_y, mode="lines", xaxis=xr, yaxis=yr, showlegend=False,
                             line=dict(color="#cfcfcf", width=3.5)))
    fig.add_trace(go.Scatter(x=native_x, y=native_y, mode="lines", xaxis=xr, yaxis=yr, showlegend=False,
                             line=dict(color="#666666", width=3.5, dash="4px,1.5px")))
    if p.get("dashed"):
        fig.add_trace(go.Scatter(x=pictus_x, y=pictus_y, mode="lines", xaxis=xr, yaxis=yr, showlegend=False,
                                 line=dict(color="#555555", width=3, dash="12px,9px")))
    fig.add_trace(go.Scatter(x=p["pts"][0], y=p["pts"][1], mode="markers", xaxis=xr, yaxis=yr, showlegend=False,
                             marker=dict(color="black", size=11, symbol="circle", line=dict(width=0))))
    if p["mask"]:
        x0, x1, y0, y1 = p["mask"]
        shapes.append(dict(type="rect", xref=xr, yref=yr, x0=x0, x1=x1, y0=y0, y1=y1, layer="above",
                           fillcolor="rgba(255,255,255,0.94)", line=dict(width=0)))
    if p.get("arial"):
        font = dict(family="Liberation Sans", size=49, color="#6a6a6a")
        text = f"<b><i>{p['name']}</i></b>"
    else:
        font = dict(family=FONT, size=54, color="#333333")
        text = f"<i>{p['name']}</i>"
    annotations.append(dict(text=text, xref=xr, yref=yr, x=p["lx"], y=-7.95, xanchor="left", yanchor="middle",
                            showarrow=False, font=font))

# axis titles of the labelled panel
annotations.append(dict(text="<b>PC1</b>", xref="x7", yref="paper", x=0, y=1 - 2295 / H, xanchor="center", yanchor="middle",
                        showarrow=False, font=dict(family=FONT, size=42, color="#8c8c8c")))
annotations.append(dict(text="<b>PC2</b>", xref="paper", yref="y7", x=1057 / W, y=-1.5, xanchor="center", yanchor="middle",
                        showarrow=False, textangle=-90, font=dict(family=FONT, size=42, color="#8c8c8c")))

# correlation circle panel
layout_axes["xaxis9"] = dict(range=[-1, 1], domain=[97 / W, 931 / W], anchor="y9", visible=False, automargin=False)
layout_axes["yaxis9"] = dict(range=[-1, 1], domain=[1 - 2304 / H, 1 - 1528 / H], anchor="x9", visible=False, automargin=False)
shapes.append(dict(type="circle", xref="x9", yref="y9", x0=-1, x1=1, y0=-1, y1=1, layer="below",
                   line=dict(color="#5f5f5f", width=4)))
shapes.append(dict(type="line", xref="x9", yref="y9", x0=-1, x1=1, y0=0, y1=0, layer="below",
                   line=dict(color="#7a7a7a", width=4)))
shapes.append(dict(type="line", xref="x9", yref="y9", x0=0, x1=0, y0=-1, y1=1, layer="below",
                   line=dict(color="#7a7a7a", width=4)))
for name, vx, vy, lx, ly in zip(var_names, var_x, var_y, var_label_x, var_label_y):
    fig.add_trace(go.Scatter(x=[0, vx], y=[0, vy], mode="lines+markers", xaxis="x9", yaxis="y9", showlegend=False,
                             line=dict(color="#1c1c1c", width=5),
                             marker=dict(symbol=["circle", "arrow-wide-open"], size=[1, 30], angleref="previous",
                                         color="#111111", line=dict(color="#111111", width=5))))
    annotations.append(dict(text=name, xref="x9", yref="y9", x=lx, y=ly, showarrow=False,
                            font=dict(family=FONT, size=54, color="#333333")))
annotations.append(dict(text="PC1 45%", xref="x9", yref="y9", x=0.742, y=0.064, showarrow=False,
                        font=dict(family=FONT, size=48, color="#adadad")))
annotations.append(dict(text="PC2 36%", xref="x9", yref="y9", x=-0.077, y=0.724, showarrow=False, textangle=-90,
                        font=dict(family=FONT, size=48, color="#adadad")))

fig.update_layout(width=W, height=H, margin=dict(l=0, r=0, t=0, b=0), paper_bgcolor="white", plot_bgcolor="white",
                  showlegend=False, shapes=shapes, annotations=annotations, **layout_axes)
fig.write_html("out.html", config=dict(displayModeBar=False),
               post_script="document.body.style.margin='0';document.body.style.overflow='hidden';")
